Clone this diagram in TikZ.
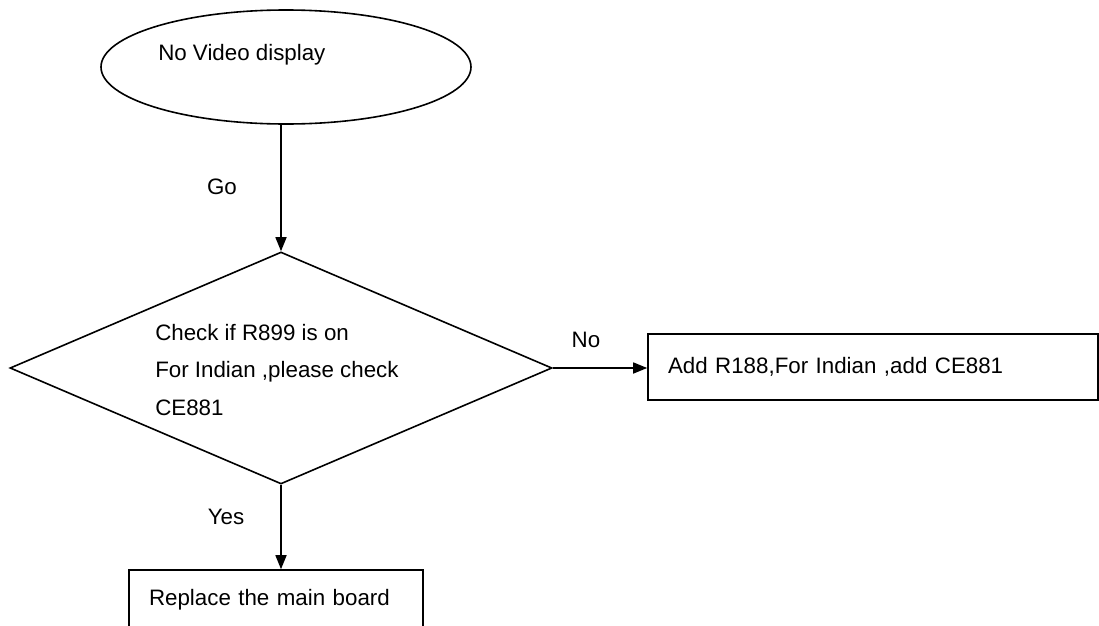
\documentclass[tikz,border=0pt]{standalone}
\usepackage{fontspec}
\setmainfont{Liberation Sans}
\usetikzlibrary{shapes.geometric,arrows.meta}
\begin{document}
\begin{tikzpicture}[x=0.75pt,y=-0.75pt,
  every node/.style={font=\fontsize{16.75}{20}\selectfont},
  shp/.style={draw=black, line width=1.2pt},
  conn/.style={draw=black, line width=1.2pt, -{Triangle[length=10.5pt,width=8.25pt]}},
  lbl/.style={inner sep=0pt}]
\useasboundingbox (0,0) rectangle (1099,625);
\clip (0,0) rectangle (1099,625);
% start ellipse
\node[shp, ellipse, minimum width=277.5pt, minimum height=85.5pt, inner sep=0pt] (start) at (286,67) {};
\node[lbl, anchor=west] (starttext) at (158,55) {No Video display};
% decision diamond
\node[shp, diamond, minimum width=406.5pt, minimum height=174pt, inner sep=0pt] (dec) at (281,368) {};
\node[lbl, anchor=west, align=left, font=\fontsize{16.75}{28}\selectfont] (dectext) at (155,370) {Check if R899 is on\\For Indian ,please check\\CE881};
% action box (right)
\node[shp, rectangle, minimum width=337.5pt, minimum height=49.5pt, text width=307.5pt, inner xsep=15pt, inner ysep=0pt, align=left] (add) at (873,367) {Add R188,For Indian ,add CE881};
% action box (bottom)
\node[shp, rectangle, minimum width=220.5pt, minimum height=45pt, text width=190.5pt, inner xsep=15pt, inner ysep=0pt, align=left] (rep) at (276,600) {Replace the main board};
% connectors
\draw[conn] (start.south -| dec.north) -- (dec.north);
\draw[conn] (dec.east) -- (dec.east -| add.west);
\draw[conn] (dec.south) -- (dec.south |- rep.north);
% labels
\node[lbl] (go) at (222,187) {Go};
\node[lbl] (no) at (586,340) {No};
\node[lbl] (yes) at (226,517) {Yes};
\end{tikzpicture}
\end{document}
